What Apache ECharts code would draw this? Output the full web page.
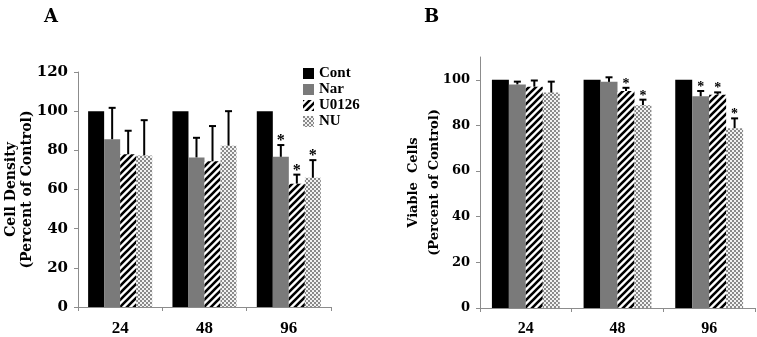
<!DOCTYPE html>
<html>
<head>
<meta charset="utf-8">
<script src="https://cdn.jsdelivr.net/npm/echarts@6/dist/echarts.min.js"></script>
<style>
  html, body { margin: 0; padding: 0; background: #fff; }
  #chart { width: 757px; height: 337px; }
</style>
</head>
<body>
<div id="chart"></div>
<script>
// hours
const categories = ["24", "48", "96"];
const seriesNames = ["Cont", "Nar", "U0126", "NU"];

// panel A - cell density (% of control), mean and error (+SD)
const contA = [100, 100, 100];
const narA = [85.7, 76.4, 76.7];
const u0126A = [78, 74.4, 63];
const nuA = [77.4, 82.4, 66];
const narAErr = [16, 10, 6];
const u0126AErr = [12, 18, 4.6];
const nuAErr = [18, 17.6, 9];
const narAStar = [0, 0, 1];
const u0126AStar = [0, 0, 1];
const nuAStar = [0, 0, 1];

// panel B - viable cells (% of control)
const contB = [100, 100, 100];
const narB = [98, 99.1, 92.8];
const u0126B = [97, 95.1, 93.5];
const nuB = [94.4, 88.9, 78.8];
const narBErr = [1.2, 2, 2.3];
const u0126BErr = [2.7, 1.4, 1.0];
const nuBErr = [4.8, 2.4, 4.3];
const narBStar = [0, 0, 1];
const u0126BStar = [0, 1, 1];
const nuBStar = [0, 1, 1];

const ticksA = [0, 20, 40, 60, 80, 100, 120];
const ticksB = [0, 20, 40, 60, 80, 100];

const gapA = 0.24;
const gapB = 0.26;

function hatchPattern() {
  const c = document.createElement("canvas");
  c.width = 7; c.height = 7;
  const ctx = c.getContext("2d");
  ctx.fillStyle = "#fff";
  ctx.fillRect(0, 0, 7, 7);
  ctx.strokeStyle = "#000";
  ctx.lineWidth = 2.6;
  ctx.beginPath();
  ctx.moveTo(-1, 8); ctx.lineTo(8, -1);
  ctx.moveTo(-2, 2); ctx.lineTo(2, -2);
  ctx.moveTo(5, 9); ctx.lineTo(9, 5);
  ctx.stroke();
  return c;
}

function checkPattern() {
  const c = document.createElement("canvas");
  c.width = 4; c.height = 4;
  const ctx = c.getContext("2d");
  ctx.fillStyle = "#f2f2f2";
  ctx.fillRect(0, 0, 4, 4);
  ctx.fillStyle = "#8a8a8a";
  ctx.fillRect(0, 0, 2, 2);
  ctx.fillRect(2, 2, 2, 2);
  return c;
}

const colors = [
  "#000000",
  "#7a7a7a",
  { image: hatchPattern(), repeat: "repeat" },
  { image: checkPattern(), repeat: "repeat" }
];

const serif = "Liberation Serif";
const wideSerif = "DejaVu Serif";

function errRender(k, gap, capW, starSize) {
  return function (params, api) {
    const cat = api.value(0);
    const mean = api.value(1);
    const up = api.value(2);
    const star = api.value(3);
    const band = api.size([1, 0])[0];
    const inner = band * (1 - gap);
    const bw = inner / 4;
    const top = api.coord([cat, up]);
    const bot = api.coord([cat, mean]);
    const x = top[0] - inner / 2 + (k + 0.5) * bw;
    const st = { stroke: "#000", lineWidth: 2 };
    const children = [
      { type: "line", shape: { x1: x, y1: bot[1], x2: x, y2: top[1] }, style: st },
      { type: "line", shape: { x1: x - capW / 2, y1: top[1], x2: x + capW / 2, y2: top[1] }, style: st }
    ];
    if (star) {
      children.push({
        type: "text",
        style: {
          text: "*", x: x, y: top[1] + starSize * 0.25,
          align: "center", verticalAlign: "bottom",
          font: "bold " + starSize + "px '" + serif + "'", fill: "#000"
        }
      });
    }
    return { type: "group", children: children };
  };
}

function errData(means, errs, stars) {
  return means.map((m, i) => [i, m, m + errs[i], stars[i]]);
}

const panelA = [contA, narA, u0126A, nuA];
const panelB = [contB, narB, u0126B, nuB];
const errsA = [null, [narA, narAErr, narAStar], [u0126A, u0126AErr, u0126AStar], [nuA, nuAErr, nuAStar]];
const errsB = [null, [narB, narBErr, narBStar], [u0126B, u0126BErr, u0126BStar], [nuB, nuBErr, nuBStar]];

const series = [];
panelA.forEach((d, k) => {
  series.push({
    name: seriesNames[k], type: "bar", xAxisIndex: 0, yAxisIndex: 0,
    data: d, barGap: "0%", barCategoryGap: gapA * 100 + "%",
    itemStyle: { color: colors[k], borderRadius: 0 }, silent: true
  });
});
panelB.forEach((d, k) => {
  series.push({
    name: seriesNames[k], type: "bar", xAxisIndex: 1, yAxisIndex: 1,
    data: d, barGap: "0%", barCategoryGap: gapB * 100 + "%",
    itemStyle: { color: colors[k], borderRadius: 0 }, silent: true
  });
});
errsA.forEach((e, k) => {
  if (!e) return;
  series.push({
    type: "custom", xAxisIndex: 0, yAxisIndex: 0, z: 5, silent: true,
    renderItem: errRender(k, gapA, 7, 16),
    encode: { x: 0, y: [1, 2] },
    data: errData(e[0], e[1], e[2])
  });
});
errsB.forEach((e, k) => {
  if (!e) return;
  series.push({
    type: "custom", xAxisIndex: 1, yAxisIndex: 1, z: 5, silent: true,
    renderItem: errRender(k, gapB, 7, 14),
    encode: { x: 0, y: [1, 2] },
    data: errData(e[0], e[1], e[2])
  });
});

const axisLineStyle = { lineStyle: { color: "#8c8c8c", width: 1 } };
const titleStyle = { fontFamily: wideSerif, fontWeight: "bold", fontSize: 18, color: "#000" };

const option = {
  animation: false,
  backgroundColor: "#fff",
  title: [
    { text: "A", left: 39, top: 3, textStyle: titleStyle },
    { text: "B", left: 419, top: 3, textStyle: titleStyle }
  ],
  legend: {
    data: seriesNames,
    orient: "vertical",
    left: 298, top: 61,
    itemWidth: 11, itemHeight: 11, itemGap: 1,
    icon: "rect",
    textStyle: { fontFamily: serif, fontWeight: "bold", fontSize: 15, color: "#000" }
  },
  grid: [
    { left: 78, top: 72, width: 253, height: 239 },
    { left: 480, top: 57, width: 275, height: 255 }
  ],
  xAxis: [0, 1].map(i => ({
    type: "category", gridIndex: i, data: categories,
    axisLine: axisLineStyle,
    axisTick: { show: true, length: 4, lineStyle: { color: "#8c8c8c" } },
    axisLabel: {
      margin: 13, color: "#000", fontFamily: serif, fontWeight: "bold",
      fontSize: i === 0 ? 17 : 16
    }
  })),
  yAxis: [
    {
      type: "value", gridIndex: 0, min: 0, max: 120, interval: 20,
      name: "Cell Density\n(Percent of Control)",
      nameLocation: "middle", nameRotate: 90, nameGap: 43, nameMoveOverlap: false,
      nameTextStyle: { fontFamily: wideSerif, fontWeight: "bold", fontSize: 14, color: "#000", lineHeight: 16 },
      axisLine: { show: true, lineStyle: { color: "#8c8c8c" } },
      axisTick: { show: true, length: 4, lineStyle: { color: "#8c8c8c" }, customValues: ticksA },
      splitLine: { show: false },
      axisLabel: {
        margin: 10, color: "#000", fontFamily: wideSerif, fontWeight: "bold", fontSize: 15,
        customValues: ticksA
      }
    },
    {
      type: "value", gridIndex: 1, min: 0, max: 110, interval: 20,
      name: "Viable  Cells\n(Percent of Control)",
      nameLocation: "middle", nameRotate: 90, nameGap: 35, nameMoveOverlap: false,
      nameTextStyle: { fontFamily: wideSerif, fontWeight: "bold", fontSize: 13, color: "#000", lineHeight: 21 },
      axisLine: { show: true, lineStyle: { color: "#8c8c8c" } },
      axisTick: { show: true, length: 4, lineStyle: { color: "#8c8c8c" }, customValues: ticksB },
      splitLine: { show: false },
      axisLabel: {
        margin: 10, color: "#000", fontFamily: wideSerif, fontWeight: "bold", fontSize: 13,
        customValues: ticksB
      }
    }
  ],
  series: series
};

const chart = echarts.init(document.getElementById("chart"));
chart.setOption(option);
</script>
</body>
</html>
